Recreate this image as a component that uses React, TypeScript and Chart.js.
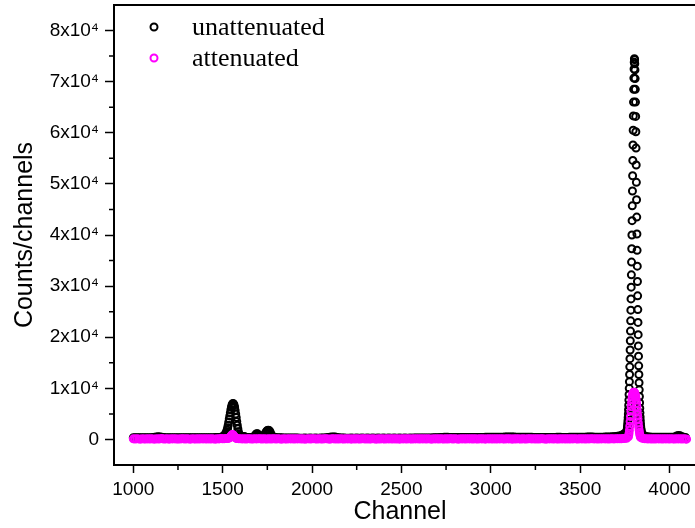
import { useEffect, useRef } from 'react';
import { Chart, registerables } from 'chart.js';

Chart.register(...registerables);

// ---------- axis ticks ----------
const xMajorTicks = [1000, 1500, 2000, 2500, 3000, 3500, 4000];
const xMinorTicks = [1250, 1750, 2250, 2750, 3250, 3750];
const yMajorTicks = [0, 10000, 20000, 30000, 40000, 50000, 60000, 70000, 80000];
const yMinorTicks = [5000, 15000, 25000, 35000, 45000, 55000, 65000, 75000];

const seriesNames = ['unattenuated', 'attenuated'];

// ---------- unattenuated (black), counts per channel segment ----------
// channels 1000..1500 step 10
const unattBase1 = [
  330, 340, 330, 320, 340, 330, 340, 330, 320, 340,
  350, 380, 430, 500, 530, 480, 410, 360, 340, 330,
  320, 330, 340, 330, 320, 330, 340, 330, 320, 330,
  340, 330, 320, 330, 340, 330, 320, 330, 340, 330,
  320, 330, 340, 350, 340, 350, 360, 370, 390, 420,
  480,
];
// channels 1504..1600 step 3
const unattPeak1 = [
  650, 700, 800, 900, 1050, 1250, 1500, 1850, 2300, 2800, 3400, 4000, 4600, 5200, 5800, 6300,
  6700, 6950, 7050, 6950, 6700, 6300, 5700, 5000, 4300, 3500, 2800, 2100, 1500, 1100, 800, 650, 550,
];
// channels 1605..1800 step 5
const unattBumps = [
  400, 430, 520, 560, 500, 420, 380, 360, 370, 360,
  370, 380, 400, 440, 520, 700, 950, 1130, 1100, 900,
  680, 560, 540, 560, 620, 740, 950, 1250, 1550, 1750,
  1800, 1750, 1500, 1100, 780, 560, 450, 400, 370, 350,
];
// channels 1810..3750 step 10
const unattBase2 = [
  330, 320, 310, 300, 290, 280, 280, 270, 270, 260,
  260, 260, 250, 250, 250, 260, 250, 250, 260, 250,
  250, 260, 250, 250, 260, 270, 290, 320, 370, 420,
  460, 480, 460, 400, 340, 290, 270, 260, 250, 250,
  250, 260, 250, 250, 260, 250, 250, 260, 250, 250,
  260, 250, 250, 260, 250, 250, 260, 250, 250, 260,
  250, 250, 260, 250, 250, 260, 250, 250, 260, 250,
  250, 260, 250, 250, 260, 250, 260, 260, 270, 270,
  270, 280, 280, 290, 290, 300, 300, 310, 320, 330,
  350, 370, 400, 430, 440, 420, 400, 380, 370, 360,
  360, 360, 370, 370, 370, 380, 380, 380, 390, 390,
  390, 390, 400, 400, 400, 400, 410, 410, 410, 410,
  410, 420, 420, 420, 430, 440, 450, 470, 490, 500,
  500, 490, 470, 450, 440, 430, 420, 420, 420, 410,
  410, 410, 410, 400, 400, 400, 400, 400, 400, 400,
  400, 400, 400, 400, 400, 400, 410, 410, 410, 400,
  400, 400, 400, 410, 410, 410, 420, 420, 420, 430,
  430, 440, 450, 470, 480, 470, 460, 450, 440, 440,
  440, 450, 450, 460, 470, 480, 500, 520, 550, 580,
  620, 680, 780, 950, 1200,
];
// channels 3755..3845 step 1
const unattPeak2 = [
  700, 750, 800, 900, 1000, 1150, 1300, 1500, 1750, 2000,
  2350, 2750, 3200, 3700, 4300, 5000, 5800, 6700, 7700, 8800,
  10000, 11300, 12700, 14200, 15800, 17500, 19300, 21200, 23200, 25300,
  27500, 29800, 32200, 34700, 37300, 40000, 42800, 45700, 48600, 51600,
  54600, 57600, 60500, 63300, 66000, 68500, 70700, 72500, 73800, 74500,
  74300, 73500, 72300, 70600, 68500, 66000, 63200, 60200, 57000, 53700,
  50300, 46900, 43500, 40200, 37000, 33900, 30900, 28100, 25400, 22900,
  20500, 18300, 16300, 14400, 12700, 11100, 9700, 8400, 7200, 6100,
  5200, 4400, 3700, 3100, 2600, 2200, 1900, 1600, 1400, 1200,
  1050,
];
// channels 3850..4090 step 10
const unattBase3 = [
  900, 700, 580, 500, 460, 440, 430, 420, 420, 420,
  420, 420, 420, 420, 430, 430, 440, 450, 500, 650,
  780, 700, 520, 430, 400,
];

// ---------- attenuated (magenta) ----------
// channels 1000..1520 step 10
const attBase1 = [
  120, 80, 150, 100, 60, 140, 110, 90, 160, 70,
  130, 100, 60, 150, 90, 120, 170, 80, 110, 140,
  60, 130, 100, 150, 90, 110, 70, 160, 120, 80,
  140, 100, 60, 150, 110, 90, 130, 70, 160, 100,
  120, 80, 150, 90, 140, 110, 60, 130, 100, 170,
  120, 160, 180,
];
// channels 1530..1582 step 4
const attPeak1 = [200, 250, 320, 450, 650, 850, 950, 920, 750, 520, 350, 250, 200, 170];
// channels 1590..3760 step 10
const attBase2 = [
  150, 130, 100, 140, 80, 120, 160, 90, 110, 130,
  100, 150, 120, 80, 140, 110, 90, 160, 70, 120,
  130, 90, 150, 100, 60, 140, 110, 80, 160, 100,
  120, 70, 140, 100, 150, 90, 130, 60, 110, 150,
  80, 120, 160, 100, 70, 140, 110, 90, 150, 120,
  100, 60, 130, 150, 90, 120, 80, 160, 110, 70,
  140, 100, 120, 60, 150, 90, 130, 110, 80, 160,
  120, 90, 140, 70, 110, 150, 100, 60, 130, 90,
  150, 110, 80, 140, 100, 120, 70, 160, 90, 130,
  60, 140, 100, 120, 90, 150, 110, 80, 130, 100,
  160, 70, 120, 100, 140, 90, 150, 110, 60, 130,
  100, 140, 80, 150, 110, 70, 130, 90, 160, 120,
  90, 150, 110, 60, 140, 100, 120, 80, 150, 110,
  130, 70, 140, 100, 90, 160, 110, 120, 60, 150,
  100, 120, 90, 150, 70, 130, 110, 140, 100, 80,
  150, 100, 130, 60, 120, 90, 160, 110, 80, 140,
  110, 80, 150, 120, 100, 140, 70, 130, 90, 160,
  120, 100, 60, 140, 110, 150, 90, 130, 100, 70,
  140, 110, 130, 90, 160, 80, 120, 100, 150, 110,
  90, 150, 100, 130, 70, 140, 110, 160, 120, 100,
  130, 90, 140, 110, 150, 100, 120, 80, 140, 120,
  110, 150, 130, 160, 140, 180, 200, 240,
];
// channels 3770..3840 step 2
const attPeak2 = [
  500, 800, 1200, 1800, 2600, 3500, 4500, 5500, 6400, 7200,
  7900, 8400, 8800, 9050, 9200, 9250, 9250, 9200, 9100, 8900,
  8600, 8200, 7700, 7100, 6400, 5600, 4800, 4000, 3200, 2500,
  1900, 1400, 1000, 700, 500, 350,
];
// channels 3850..4090 step 10
const attBase3 = [
  200, 150, 120, 100, 140, 90, 120, 80, 150, 110,
  130, 70, 140, 100, 120, 90, 150, 110, 80, 130,
  100, 140, 90, 120, 110,
];
const attLastChannel = [4096];
const attLastCount = [60];

function seg(start: number, step: number, counts: number[]) {
  return counts.map((y, i) => ({ x: start + i * step, y }));
}

const SANS = '"Liberation Sans", Arial, sans-serif';
const SERIF = '"Liberation Serif", "Times New Roman", serif';

export default function App() {
  const ref = useRef<HTMLCanvasElement>(null);

  useEffect(() => {
    const canvas = ref.current;
    if (!canvas) return;

    const blackPts = [
      ...seg(1000, 10, unattBase1),
      ...seg(1504, 3, unattPeak1),
      ...seg(1605, 5, unattBumps),
      ...seg(1810, 10, unattBase2),
      ...seg(3755, 1, unattPeak2),
      ...seg(3850, 10, unattBase3),
    ];
    const magPts = [
      ...seg(1000, 10, attBase1),
      ...seg(1530, 4, attPeak1),
      ...seg(1590, 10, attBase2),
      ...seg(3770, 2, attPeak2),
      ...seg(3850, 10, attBase3),
      ...attLastChannel.map((x, i) => ({ x, y: attLastCount[i] })),
    ];

    const decor = {
      id: 'decor',
      afterDraw(chart: any) {
        const { ctx, chartArea: a, scales } = chart;
        const xs = scales.x;
        const ys = scales.y;
        ctx.save();
        ctx.strokeStyle = '#000';
        // top frame line
        ctx.lineWidth = 2;
        ctx.beginPath();
        ctx.moveTo(a.left - 1, a.top);
        ctx.lineTo(a.right, a.top);
        ctx.stroke();
        // minor ticks
        ctx.lineWidth = 1.5;
        ctx.beginPath();
        for (const v of yMinorTicks) {
          const py = ys.getPixelForValue(v);
          ctx.moveTo(a.left, py);
          ctx.lineTo(a.left - 5, py);
        }
        for (const v of xMinorTicks) {
          const px = xs.getPixelForValue(v);
          ctx.moveTo(px, a.bottom);
          ctx.lineTo(px, a.bottom + 5);
        }
        ctx.stroke();

        // legend
        const rows = [
          { y: 27, color: '#000000', label: seriesNames[0] },
          { y: 58, color: '#FF00FF', label: seriesNames[1] },
        ];
        ctx.font = `26px ${SERIF}`;
        ctx.textAlign = 'left';
        ctx.textBaseline = 'alphabetic';
        for (const r of rows) {
          ctx.strokeStyle = r.color;
          ctx.lineWidth = 2;
          ctx.beginPath();
          ctx.arc(154, r.y, 3.5, 0, Math.PI * 2);
          ctx.stroke();
          ctx.fillStyle = '#000';
          ctx.fillText(r.label, 192, r.y + 8);
        }

        // axis titles
        ctx.fillStyle = '#000';
        ctx.font = `25px ${SANS}`;
        ctx.textAlign = 'center';
        ctx.textBaseline = 'middle';
        ctx.fillText('Channel', 400, 512);
        ctx.translate(25, 235);
        ctx.rotate(-Math.PI / 2);
        ctx.fillText('Counts/channels', 0, 0);
        ctx.restore();
      },
    };

    const chart = new Chart(canvas, {
      type: 'scatter',
      data: {
        datasets: [
          {
            label: seriesNames[0],
            data: blackPts,
            borderColor: '#000000',
            backgroundColor: 'rgba(0,0,0,0)',
            pointRadius: 3.5,
            pointBorderWidth: 2,
            pointHoverRadius: 3.5,
            order: 1,
          },
          {
            label: seriesNames[1],
            data: magPts,
            borderColor: '#FF00FF',
            backgroundColor: 'rgba(0,0,0,0)',
            pointRadius: 3.5,
            pointBorderWidth: 2,
            pointHoverRadius: 3.5,
            order: 0,
          },
        ],
      },
      options: {
        responsive: false,
        animation: false,
        events: [],
        layout: { autoPadding: false, padding: { top: 5, left: 0, right: 0, bottom: 0 } },
        plugins: {
          legend: { display: false },
          tooltip: { enabled: false },
        },
        scales: {
          x: {
            type: 'linear',
            min: 892,
            max: 4143,
            afterBuildTicks: (s: any) => {
              s.ticks = xMajorTicks.map((v) => ({ value: v }));
            },
            afterFit: (s: any) => {
              s.height = 63;
              s.paddingLeft = 0;
              s.paddingRight = 0;
            },
            ticks: {
              color: '#000',
              font: { family: SANS, size: 19 },
              padding: 5,
              maxRotation: 0,
              autoSkip: false,
              callback: (v: any) => String(v),
            },
            grid: {
              drawOnChartArea: false,
              drawTicks: true,
              tickLength: 8,
              tickWidth: 1.5,
              tickColor: '#000',
            },
            border: { display: true, color: '#000', width: 2 },
          },
          y: {
            type: 'linear',
            min: -5000,
            max: 85000,
            afterBuildTicks: (s: any) => {
              s.ticks = yMajorTicks.map((v) => ({ value: v }));
            },
            afterFit: (s: any) => {
              s.width = 114;
              s.paddingTop = 0;
              s.paddingBottom = 0;
            },
            ticks: {
              color: '#000',
              font: { family: SANS, size: 19 },
              padding: 6,
              autoSkip: false,
              callback: (v: any) => (v === 0 ? '0' : `${v / 10000}x10\u2074`),
            },
            grid: {
              drawOnChartArea: false,
              drawTicks: true,
              tickLength: 9,
              tickWidth: 1.5,
              tickColor: '#000',
            },
            border: { display: true, color: '#000', width: 2 },
          },
        },
      },
      plugins: [decor],
    });

    return () => chart.destroy();
  }, []);

  return (
    <div style={{ position: 'absolute', left: 0, top: 0, width: 695, height: 528 }}>
      <canvas ref={ref} width={695} height={528} style={{ display: 'block' }} />
    </div>
  );
}
